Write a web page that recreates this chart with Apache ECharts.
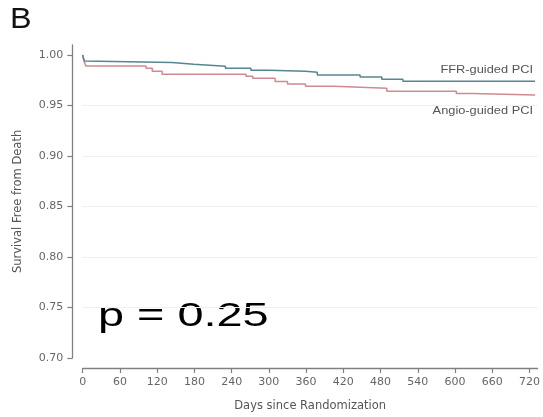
<!DOCTYPE html>
<html>
<head>
<meta charset="utf-8">
<script src="https://cdn.jsdelivr.net/npm/echarts@6/dist/echarts.min.js"></script>
<style>html,body{margin:0;padding:0;background:#fff}#c{width:543px;height:417px}</style>
</head>
<body>
<div id="c"></div>
<script>
// Kaplan-Meier step points: [days, survival]
const ffrDays = [0, 1, 3, 6, 144, 179, 230, 271, 300, 359, 378, 447, 482, 516, 729];
const ffrSurv = [1.000, 0.997, 0.994, 0.9925, 0.9908, 0.9889, 0.9869, 0.9849, 0.9840, 0.9830, 0.9803, 0.9783, 0.9760, 0.9740, 0.9740];
const angDays = [0, 2, 5, 102, 112, 128, 263, 274, 310, 330, 359, 405, 490, 602, 628, 729];
const angSurv = [1.000, 0.994, 0.989, 0.987, 0.984, 0.981, 0.979, 0.977, 0.9737, 0.9714, 0.969, 0.9671, 0.964, 0.962, 0.9605, 0.9605];
const xTicks = [0, 60, 120, 180, 240, 300, 360, 420, 480, 540, 600, 660, 720];
const yTicks = [0.70, 0.75, 0.80, 0.85, 0.90, 0.95, 1.00];
const seriesNames = ['FFR-guided PCI', 'Angio-guided PCI'];
const pText = 'p = 0.25';
const panelLetter = 'B';

const chart = echarts.init(document.getElementById('c'), null, {renderer: 'canvas'});
const zip = (a, b) => a.map((v, i) => [v, b[i]]);
const small = 'DejaVu Sans';

chart.setOption({
  animation: false,
  backgroundColor: '#fff',
  grid: {left: 82.7, right: 0.6, top: 44.9, bottom: 57.7, containLabel: false},
  xAxis: {
    type: 'value', min: 0, max: 733, interval: 60, offset: 10,
    name: 'Days since Randomization', nameLocation: 'middle', nameGap: 32,
    nameTextStyle: {fontFamily: small, fontSize: 11.5, color: '#555'},
    axisLine: {show: true, onZero: false, lineStyle: {color: '#808080', width: 1.3}},
    axisTick: {show: true, length: 5, customValues: xTicks, lineStyle: {color: '#808080', width: 1.2}},
    axisLabel: {customValues: xTicks, margin: 9, fontFamily: small, fontSize: 11, color: '#666'},
    splitLine: {show: false}
  },
  yAxis: {
    type: 'value', min: 0.70, max: 1.01, interval: 0.05, offset: 10.4,
    name: 'Survival Free from Death', nameLocation: 'middle', nameGap: 48,
    nameTextStyle: {fontFamily: small, fontSize: 11.5, color: '#555'},
    axisLine: {show: true, onZero: false, lineStyle: {color: '#808080', width: 1.3}},
    axisTick: {show: true, length: 5, customValues: yTicks, lineStyle: {color: '#808080', width: 1.2}},
    axisLabel: {customValues: yTicks, margin: 9, fontFamily: small, fontSize: 11, color: '#666',
      formatter: v => Number(v).toFixed(2)},
    splitLine: {show: true, showMaxLine: false, showMinLine: false, lineStyle: {color: '#eef1f3', width: 1}}
  },
  series: [
    {name: seriesNames[0], type: 'line', step: 'end', symbol: 'none', data: zip(ffrDays, ffrSurv),
      lineStyle: {color: '#56868f', width: 1.5}, z: 3},
    {name: seriesNames[1], type: 'line', step: 'end', symbol: 'none', data: zip(angDays, angSurv),
      lineStyle: {color: '#cf8a93', width: 1.5}, z: 2}
  ],
  graphic: [
    {type: 'text', x: 10, y: 5, scaleX: 1.08,
      style: {text: panelLetter, font: '30px "Liberation Sans"', fill: '#111', textVerticalAlign: 'top'}},
    {type: 'text', x: 98, y: 300, scaleX: 1.42,
      style: {text: pText, font: '33px "Liberation Sans"', fill: '#000', textVerticalAlign: 'top'}},
    {type: 'text', x: 533, y: 70, scaleX: 1.22,
      style: {text: seriesNames[0], font: '10.5px "Liberation Sans"', fill: '#555', textAlign: 'right', textVerticalAlign: 'middle'}},
    {type: 'text', x: 533, y: 111, scaleX: 1.22,
      style: {text: seriesNames[1], font: '10.5px "Liberation Sans"', fill: '#555', textAlign: 'right', textVerticalAlign: 'middle'}}
  ]
});
</script>
</body>
</html>
